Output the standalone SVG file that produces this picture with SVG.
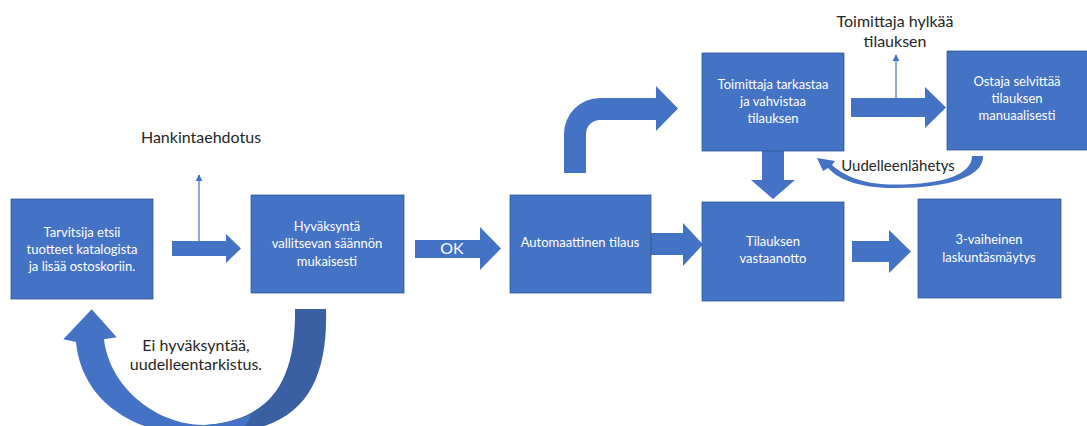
<svg xmlns="http://www.w3.org/2000/svg" width="1087" height="426" viewBox="0 0 1087 426">
  <style>
    .box { fill: #4472C4; stroke: #2F528F; stroke-width: 0.75; }
    .arrow { fill: #4472C4; }
    .dark { fill: #3A5FA3; }
    .thin { stroke: #4472C4; stroke-width: 1.2; fill: none; }
    .in { font-family: Lato, "Liberation Sans", sans-serif; font-size: 13px; fill: #FFFFFF; text-anchor: middle; }
    .out { font-family: Lato, "Liberation Sans", sans-serif; font-size: 16px; fill: #262626; text-anchor: middle; }
  </style>
  <defs>
    <marker id="tip" viewBox="0 0 10 10" refX="9" refY="5" markerWidth="7" markerHeight="8" markerUnits="userSpaceOnUse" orient="auto">
      <path d="M0,0 L10,5 L0,10 Z" fill="#4472C4"/>
    </marker>
  </defs>
  <rect width="1087" height="426" fill="#FFFFFF"/>

  <!-- connectors -->
  <g id="connectors">
    <!-- request -> approval -->
    <path class="arrow" d="M172,241 H226 V234 L241,248.5 L226,263 V256 H172 Z"/>
    <!-- approval -> automatic order (OK) -->
    <path class="arrow" d="M415,240 H480 V227 L501,248.5 L480,270 V258 H415 Z"/>
    <!-- automatic order -> order receipt -->
    <path class="arrow" d="M651,233 H683 V223 L703,244.5 L683,266 V255 H651 Z"/>
    <!-- order receipt -> 3-way match -->
    <path class="arrow" d="M852,241 H889 V230 L911,251.5 L889,273 V262 H852 Z"/>
    <!-- supplier review -> buyer manual -->
    <path class="arrow" d="M851,98 H925 V87 L946,107.5 L925,128 V117 H851 Z"/>
    <!-- supplier review -> order receipt (down) -->
    <path class="arrow" d="M762,151 H784 V180 H795 L773,199 L751,180 H762 Z"/>
    <!-- bent arrow: automatic order -> supplier review -->
    <path class="arrow" d="M564,173 V134 A36,36 0 0 1 600,98 H656 V86 L678,108.5 L656,131 V120 H600 A14,14 0 0 0 586,134 V173 Z"/>
    <!-- thin branch arrows -->
    <line class="thin" x1="199" y1="241" x2="199" y2="175" marker-end="url(#tip)"/>
    <line class="thin" x1="896" y1="98" x2="896" y2="55" marker-end="url(#tip)"/>
    <!-- rejection loop back to request (back face, then front face) -->
    <path class="dark" d="M326,309 C328,380 305,425 235,432 L200,432 L205,425 C272,420 296,380 295,309 Z"/>
    <path class="arrow" d="M91.7,309.3 L116.7,337.3 L104,339.3 C110,390 160,426 205,425 Q230,424 252,414 L242,432 L165,432 C110,420 80,385 76,342 L63.3,339.3 Z"/>
    <!-- resend loop: buyer manual -> supplier review -->
    <path class="arrow" d="M972,156 L983,156 C984,176 950,188 895,188 C862,188 840,181 828,168 L823,171 L817,158 L835,161 L832,165 C845,177 865,184.5 895,184.5 C945,184.5 972,174 972,156 Z"/>
  </g>

  <!-- free labels -->
  <text class="out" x="201" y="143">Hankintaehdotus</text>
  <text class="out" x="895" y="27">Toimittaja hylkää</text>
  <text class="out" x="895" y="47">tilauksen</text>
  <text class="out" x="898" y="171" style="font-size:15px">Uudelleenlähetys</text>
  <text class="out" x="196" y="351">Ei hyväksyntää,</text>
  <text class="out" x="196" y="370">uudelleentarkistus.</text>
  <text class="in" x="452" y="254" style="font-size:16px">OK</text>

  <g id="node-request">
    <rect class="box" x="11" y="199" width="142" height="100"/>
    <text class="in" x="82" y="237">Tarvitsija etsii</text>
    <text class="in" x="82" y="254">tuotteet katalogista</text>
    <text class="in" x="82" y="271">ja lisää ostoskoriin.</text>
  </g>

  <g id="node-approval">
    <rect class="box" x="251" y="195" width="153" height="98"/>
    <text class="in" x="327" y="231">Hyväksyntä</text>
    <text class="in" x="327" y="248">vallitsevan säännön</text>
    <text class="in" x="327" y="266">mukaisesti</text>
  </g>

  <g id="node-auto-order">
    <rect class="box" x="510" y="195" width="141" height="98"/>
    <text class="in" x="580" y="247">Automaattinen tilaus</text>
  </g>

  <g id="node-supplier-review">
    <rect class="box" x="702" y="53" width="142" height="98"/>
    <text class="in" x="773" y="89">Toimittaja tarkastaa</text>
    <text class="in" x="773" y="106">ja vahvistaa</text>
    <text class="in" x="773" y="123">tilauksen</text>
  </g>

  <g id="node-buyer-manual">
    <rect class="box" x="947" y="51" width="142" height="99"/>
    <text class="in" x="1017" y="86">Ostaja selvittää</text>
    <text class="in" x="1017" y="103">tilauksen</text>
    <text class="in" x="1017" y="120">manuaalisesti</text>
  </g>

  <g id="node-receipt">
    <rect class="box" x="702" y="202" width="142" height="99"/>
    <text class="in" x="773" y="246">Tilauksen</text>
    <text class="in" x="773" y="263">vastaanotto</text>
  </g>

  <g id="node-match">
    <rect class="box" x="918" y="199" width="143" height="99"/>
    <text class="in" x="989" y="244">3-vaiheinen</text>
    <text class="in" x="989" y="262">laskuntäsmäytys</text>
  </g>
</svg>
